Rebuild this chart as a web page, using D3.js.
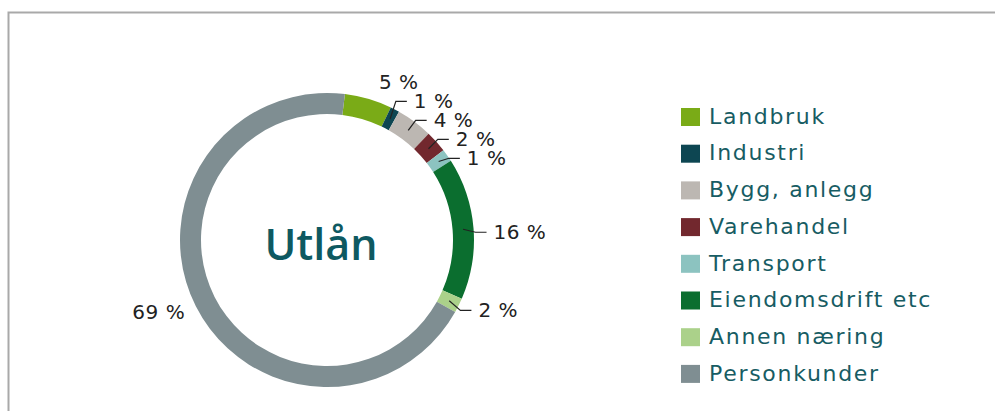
<!DOCTYPE html>
<html>
<head>
<meta charset="utf-8">
<script src="https://cdn.jsdelivr.net/npm/d3@7"></script>
<style>
  html, body { margin: 0; padding: 0; background: #fff; }
  svg { display: block; }
</style>
</head>
<body>
<svg id="chart" width="995" height="411"></svg>
<script>
// ---- data ----
const categories = ["Landbruk", "Industri", "Bygg, anlegg", "Varehandel", "Transport", "Eiendomsdrift etc", "Annen næring", "Personkunder"];
const values = [5.2, 1.0, 4.0, 2.4, 1.4, 15.6, 1.6, 68.8];
const colors = ["#7aab17", "#0d4652", "#bcb7b2", "#72282e", "#8cc3c0", "#0b6e2f", "#abd18a", "#7f8e92"];
const centerTitle = "Utlån";

// ---- layout ----
const svg = d3.select("#chart");
const cx = 327, cy = 240;
const R = 147, r = 126;
const startDeg = 7;

svg.append("rect")
  .attr("x", 8.5).attr("y", 12.5)
  .attr("width", 1200).attr("height", 600)
  .attr("fill", "none").attr("stroke", "#a9a9a9").attr("stroke-width", 2);

const data = categories.map((c, i) => ({ name: c, value: values[i], color: colors[i] }));

const pie = d3.pie().sort(null).value(d => d.value)
  .startAngle(startDeg * Math.PI / 180)
  .endAngle(startDeg * Math.PI / 180 + 2 * Math.PI);
const arcs = pie(data);
const arc = d3.arc().innerRadius(r).outerRadius(R);

const g = svg.append("g").attr("transform", `translate(${cx},${cy})`);
g.selectAll("path.slice").data(arcs).join("path")
  .attr("class", "slice")
  .attr("d", arc)
  .attr("fill", d => d.data.color);

g.append("text")
  .attr("x", -6).attr("y", 5).attr("dy", "0.36em")
  .attr("text-anchor", "middle")
  .attr("font-family", "'Open Sans', sans-serif")
  .attr("font-weight", 600)
  .attr("font-size", 43)
  .attr("fill", "#0e5961")
  .text(centerTitle);

// ---- data labels ----
const fmt = v => Math.round(v) + " %";
const mid = d => (d.startAngle + d.endAngle) / 2;
const noConnector = new Set(["Landbruk", "Personkunder"]);

const right = arcs.filter(d => mid(d) < Math.PI).map(d => {
  const a = mid(d);
  return { d, a, y: -(R + 2) * Math.cos(a) + 4, xe: (R + 2) * Math.sin(a) };
});
// resolve overlaps from bottom upward
right.sort((p, q) => q.y - p.y);
const gap = 19;
for (let i = 1; i < right.length; i++) {
  right[i].y = Math.min(right[i].y, right[i - 1].y - gap);
}

const lab = g.append("g")
  .attr("font-family", "'DejaVu Sans', sans-serif")
  .attr("font-size", 20)
  .attr("letter-spacing", 0.5)
  .attr("fill", "#222");

right.forEach(p => {
  const conn = !noConnector.has(p.d.data.name);
  if (conn) {
    const rm = (r + R) / 2;
    const sx = rm * Math.sin(p.a), sy = -rm * Math.cos(p.a);
    g.append("polyline")
      .attr("points", `${sx},${sy} ${p.xe},${p.y} ${p.xe + 11},${p.y}`)
      .attr("fill", "none").attr("stroke", "#222").attr("stroke-width", 1.2);
  }
  lab.append("text")
    .attr("x", p.xe + (conn ? 18 : 10))
    .attr("y", p.y).attr("dy", "0.35em")
    .attr("text-anchor", "start")
    .text(fmt(p.d.data.value));
});

arcs.filter(d => mid(d) >= Math.PI).forEach(d => {
  const a = mid(d);
  const rr = R + 12;
  lab.append("text")
    .attr("x", rr * Math.sin(a))
    .attr("y", -rr * Math.cos(a)).attr("dy", "0.35em")
    .attr("text-anchor", "end")
    .text(fmt(d.data.value));
});

// ---- legend ----
const legend = svg.append("g").attr("transform", "translate(681,108)");
const rowH = 36.7;
const items = legend.selectAll("g").data(data).join("g")
  .attr("transform", (d, i) => `translate(0,${i * rowH})`);
items.append("rect")
  .attr("width", 19).attr("height", 18)
  .attr("fill", d => d.color);
items.append("text")
  .attr("x", 28).attr("y", 8).attr("dy", "0.35em")
  .attr("font-family", "'DejaVu Sans', sans-serif")
  .attr("font-size", 22)
  .attr("letter-spacing", 1.7)
  .attr("fill", "#175c63")
  .text(d => d.name);
</script>
</body>
</html>
